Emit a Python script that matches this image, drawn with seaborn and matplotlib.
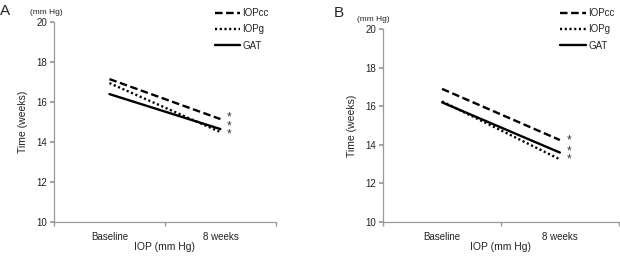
import numpy as np
import pandas as pd
import matplotlib
matplotlib.use("Agg")
import matplotlib.pyplot as plt
import seaborn as sns
from matplotlib.lines import Line2D

sns.set_theme(style="white")
plt.rcParams['font.family'] = ['Liberation Sans', 'DejaVu Sans']

timepoints = ["Baseline", "8 weeks"]
methods = ["IOPcc", "IOPg", "GAT"]
a_iopcc = [17.15, 15.15]
a_iopg = [16.95, 14.5]
a_gat = [16.4, 14.65]
b_iopcc = [16.9, 14.25]
b_iopg = [16.25, 13.25]
b_gat = [16.2, 13.6]
a_stars = [("*\n*\n*", 14.8)]
b_stars = [("*", 14.25), ("*\n*", 13.44)]
panel_labels = ["A", "B"]

def make_df(cc, g, gat):
    rows = []
    for m, vals in zip(methods, [cc, g, gat]):
        for t, v in zip(timepoints, vals):
            rows.append({"time": t, "value": v, "method": m})
    return pd.DataFrame(rows)

fig = plt.figure(figsize=(6.2, 2.57), dpi=100)
axA = fig.add_axes([0.087, 0.136, 0.358, 0.778])
axB = fig.add_axes([0.618, 0.136, 0.38, 0.751])

dashes = {"IOPcc": (3.2, 1.5), "IOPg": (0.9, 1.1), "GAT": ""}
grey = "#9a9a9a"

for ax, data, stars, lab, lx, ly, leg_x in [
        (axA, (a_iopcc, a_iopg, a_gat), a_stars, panel_labels[0], 0.0, 0.985, 0.335),
        (axB, (b_iopcc, b_iopg, b_gat), b_stars, panel_labels[1], 0.538, 0.975, 0.893)]:
    df = make_df(*data)
    sns.lineplot(data=df, x="time", y="value", style="method", dashes=dashes,
                 color="black", linewidth=1.7, ax=ax, sort=False, legend=False)
    ax.set_ylim(10, 20)
    ax.set_xlim(-0.5, 1.5)
    ax.set_yticks([10, 12, 14, 16, 18, 20])
    ax.set_xticks([0, 1])
    ax.set_xticklabels(timepoints)
    ax.set_xticks([-0.5, 0.5, 1.5], minor=True)
    ax.tick_params(axis="x", which="major", length=0, labelsize=7, pad=7, colors="#222222")
    ax.tick_params(axis="x", which="minor", length=3, color=grey, direction="out", bottom=True)
    ax.tick_params(axis="y", length=3, color=grey, direction="out", left=True, labelsize=7, pad=2, labelcolor="#222222")
    for s in ["top", "right"]:
        ax.spines[s].set_visible(False)
    for s in ["left", "bottom"]:
        ax.spines[s].set_color(grey)
        ax.spines[s].set_linewidth(0.9)
    ax.set_xlabel("IOP (mm Hg)", fontsize=7.5, labelpad=0, color="#222222")
    ax.set_ylabel("Time (weeks)", fontsize=7.5, labelpad=6, color="#222222")
    ax.text(-0.11, 1.03, "(mm Hg)", transform=ax.transAxes, fontsize=6, ha="left", va="bottom", color="#222222")
    for s, y in stars:
        ax.text(1.08, y, s, fontsize=8.5, ha="center", va="center", color="#333333", linespacing=0.6)
    fig.text(lx, ly, lab, fontsize=11, ha="left", va="top")
    handles = [Line2D([], [], color="black", lw=1.7, linestyle=(0, (3.2, 1.5))),
               Line2D([], [], color="black", lw=1.7, linestyle=(0, (0.9, 1.1))),
               Line2D([], [], color="black", lw=1.7)]
    fig.legend(handles, methods, loc="upper left", bbox_to_anchor=(leg_x, 0.995),
               frameon=False, fontsize=7, handlelength=2.6, handletextpad=0.25,
               labelspacing=0.65, borderpad=0.2)

fig.savefig("out.png", dpi=100)
